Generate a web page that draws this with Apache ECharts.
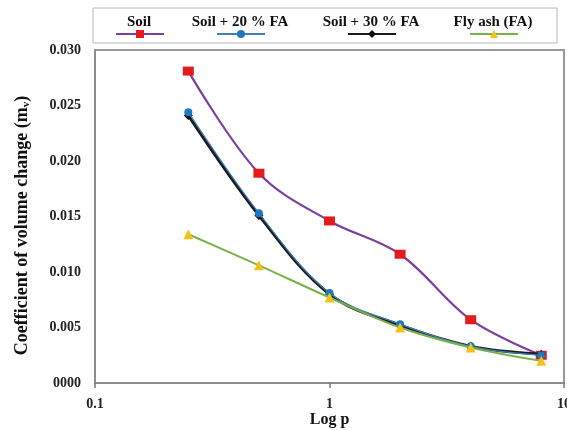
<!DOCTYPE html>
<html>
<head>
<meta charset="utf-8">
<script src="https://cdn.jsdelivr.net/npm/echarts@6/dist/echarts.min.js"></script>
<style>
  html, body { margin: 0; padding: 0; background: #fff; }
  #chart { width: 567px; height: 430px; }
</style>
</head>
<body>
<div id="chart"></div>
<script>
// Pressure steps (log scale) and coefficient of volume change for each mix
const pressure = [0.25, 0.5, 1, 2, 4, 8];
const soil     = [0.0281, 0.0189, 0.0146, 0.0116, 0.0057, 0.0025];
const soil20FA = [0.0244, 0.0153, 0.0081, 0.0053, 0.0033, 0.0025];
const soil30FA = [0.0241, 0.0151, 0.0080, 0.0052, 0.0033, 0.0026];
const flyAsh   = [0.0134, 0.0106, 0.0077, 0.0050, 0.0032, 0.0020];
const seriesNames = ['Soil', 'Soil + 20 % FA', 'Soil + 30 % FA', 'Fly ash (FA)'];

const font = 'Liberation Serif, Times New Roman, serif';
const pairs = vals => pressure.map((p, i) => [p, vals[i]]);

const chart = echarts.init(document.getElementById('chart'), null, { renderer: 'canvas' });

function lineSeries(name, data, lineColor, symColor, symbol, size, width, z) {
  return {
    name, type: 'line', data: pairs(data), smooth: 0.35,
    symbol, symbolSize: size, z,
    lineStyle: { color: lineColor, width },
    itemStyle: { color: symColor, borderWidth: 0 },
    emphasis: { disabled: true }
  };
}

// One legend block per series; the names are drawn above each icon
const legendCenters = [139, 240, 371, 493];
const legends = seriesNames.map((n, i) => ({
  data: [n], left: legendCenters[i] - 29, top: 24,
  itemWidth: 48, itemHeight: 10, itemGap: 0,
  formatter: () => '', selectedMode: false,
  textStyle: { fontSize: 1 }
}));

chart.setOption({
  animation: false,
  backgroundColor: '#fff',
  grid: { left: 95, right: 3, top: 50, bottom: 47, outerBoundsMode: 'none', containLabel: false,
    show: true, borderColor: '#9a9a9a', borderWidth: 2 },
  legend: legends,
  graphic: [
    { type: 'rect', shape: { x: 93, y: 8, width: 464, height: 35 },
      style: { fill: 'none', stroke: '#b8b8b8', lineWidth: 1 } }
  ].concat(seriesNames.map((n, i) => ({
    type: 'text',
    x: legendCenters[i], y: 22,
    style: { text: n, font: 'bold 15px ' + font, fill: '#111', textAlign: 'center', textVerticalAlign: 'middle' }
  }))),
  xAxis: {
    type: 'log', logBase: 10, min: 0.1, max: 10,
    name: 'Log p', nameLocation: 'middle', nameGap: 29, nameMoveOverlap: false,
    nameTextStyle: { fontFamily: font, fontWeight: 'bold', fontSize: 16, color: '#111' },
    axisLine: { lineStyle: { color: '#8c8c8c', width: 2 } },
    axisTick: { show: true, length: 5, lineStyle: { color: '#777', width: 1.5 } },
    minorTick: { show: false },
    splitLine: { show: false },
    axisLabel: { fontFamily: font, fontWeight: 'bold', fontSize: 14, color: '#222', margin: 14,
      formatter: v => String(v) }
  },
  yAxis: {
    type: 'value', min: 0, max: 0.03, interval: 0.005,
    name: 'Coefficient of volume change (m{sub|v})', nameLocation: 'middle', nameGap: 63, nameMoveOverlap: false,
    nameTextStyle: { fontFamily: font, fontWeight: 'bold', fontSize: 18, color: '#111', padding: [0, 18, 0, 0],
      rich: { sub: { fontFamily: font, fontWeight: 'bold', fontSize: 11, verticalAlign: 'bottom', padding: [8, 0, 0, 0] } } },
    axisLine: { show: true, lineStyle: { color: '#8c8c8c', width: 2 } },
    axisTick: { show: false },
    splitLine: { show: false },
    axisLabel: { fontFamily: font, fontWeight: 'bold', fontSize: 14, color: '#222', margin: 14,
      formatter: v => v === 0 ? '0000' : v.toFixed(3) }
  },
  series: [
    lineSeries('Soil', soil, '#7b3fa0', '#e41a1c', 'rect', [11, 9], 2.2, 2),
    lineSeries('Soil + 30 % FA', soil30FA, '#1b1b1b', '#111', 'diamond', 9, 3, 3),
    lineSeries('Soil + 20 % FA', soil20FA, '#3f7fb8', '#1f77c0', 'circle', 8, 1.2, 4),
    lineSeries('Fly ash (FA)', flyAsh, '#79b24a', '#f2c21b', 'triangle', 10, 2, 5)
  ]
});
</script>
</body>
</html>
